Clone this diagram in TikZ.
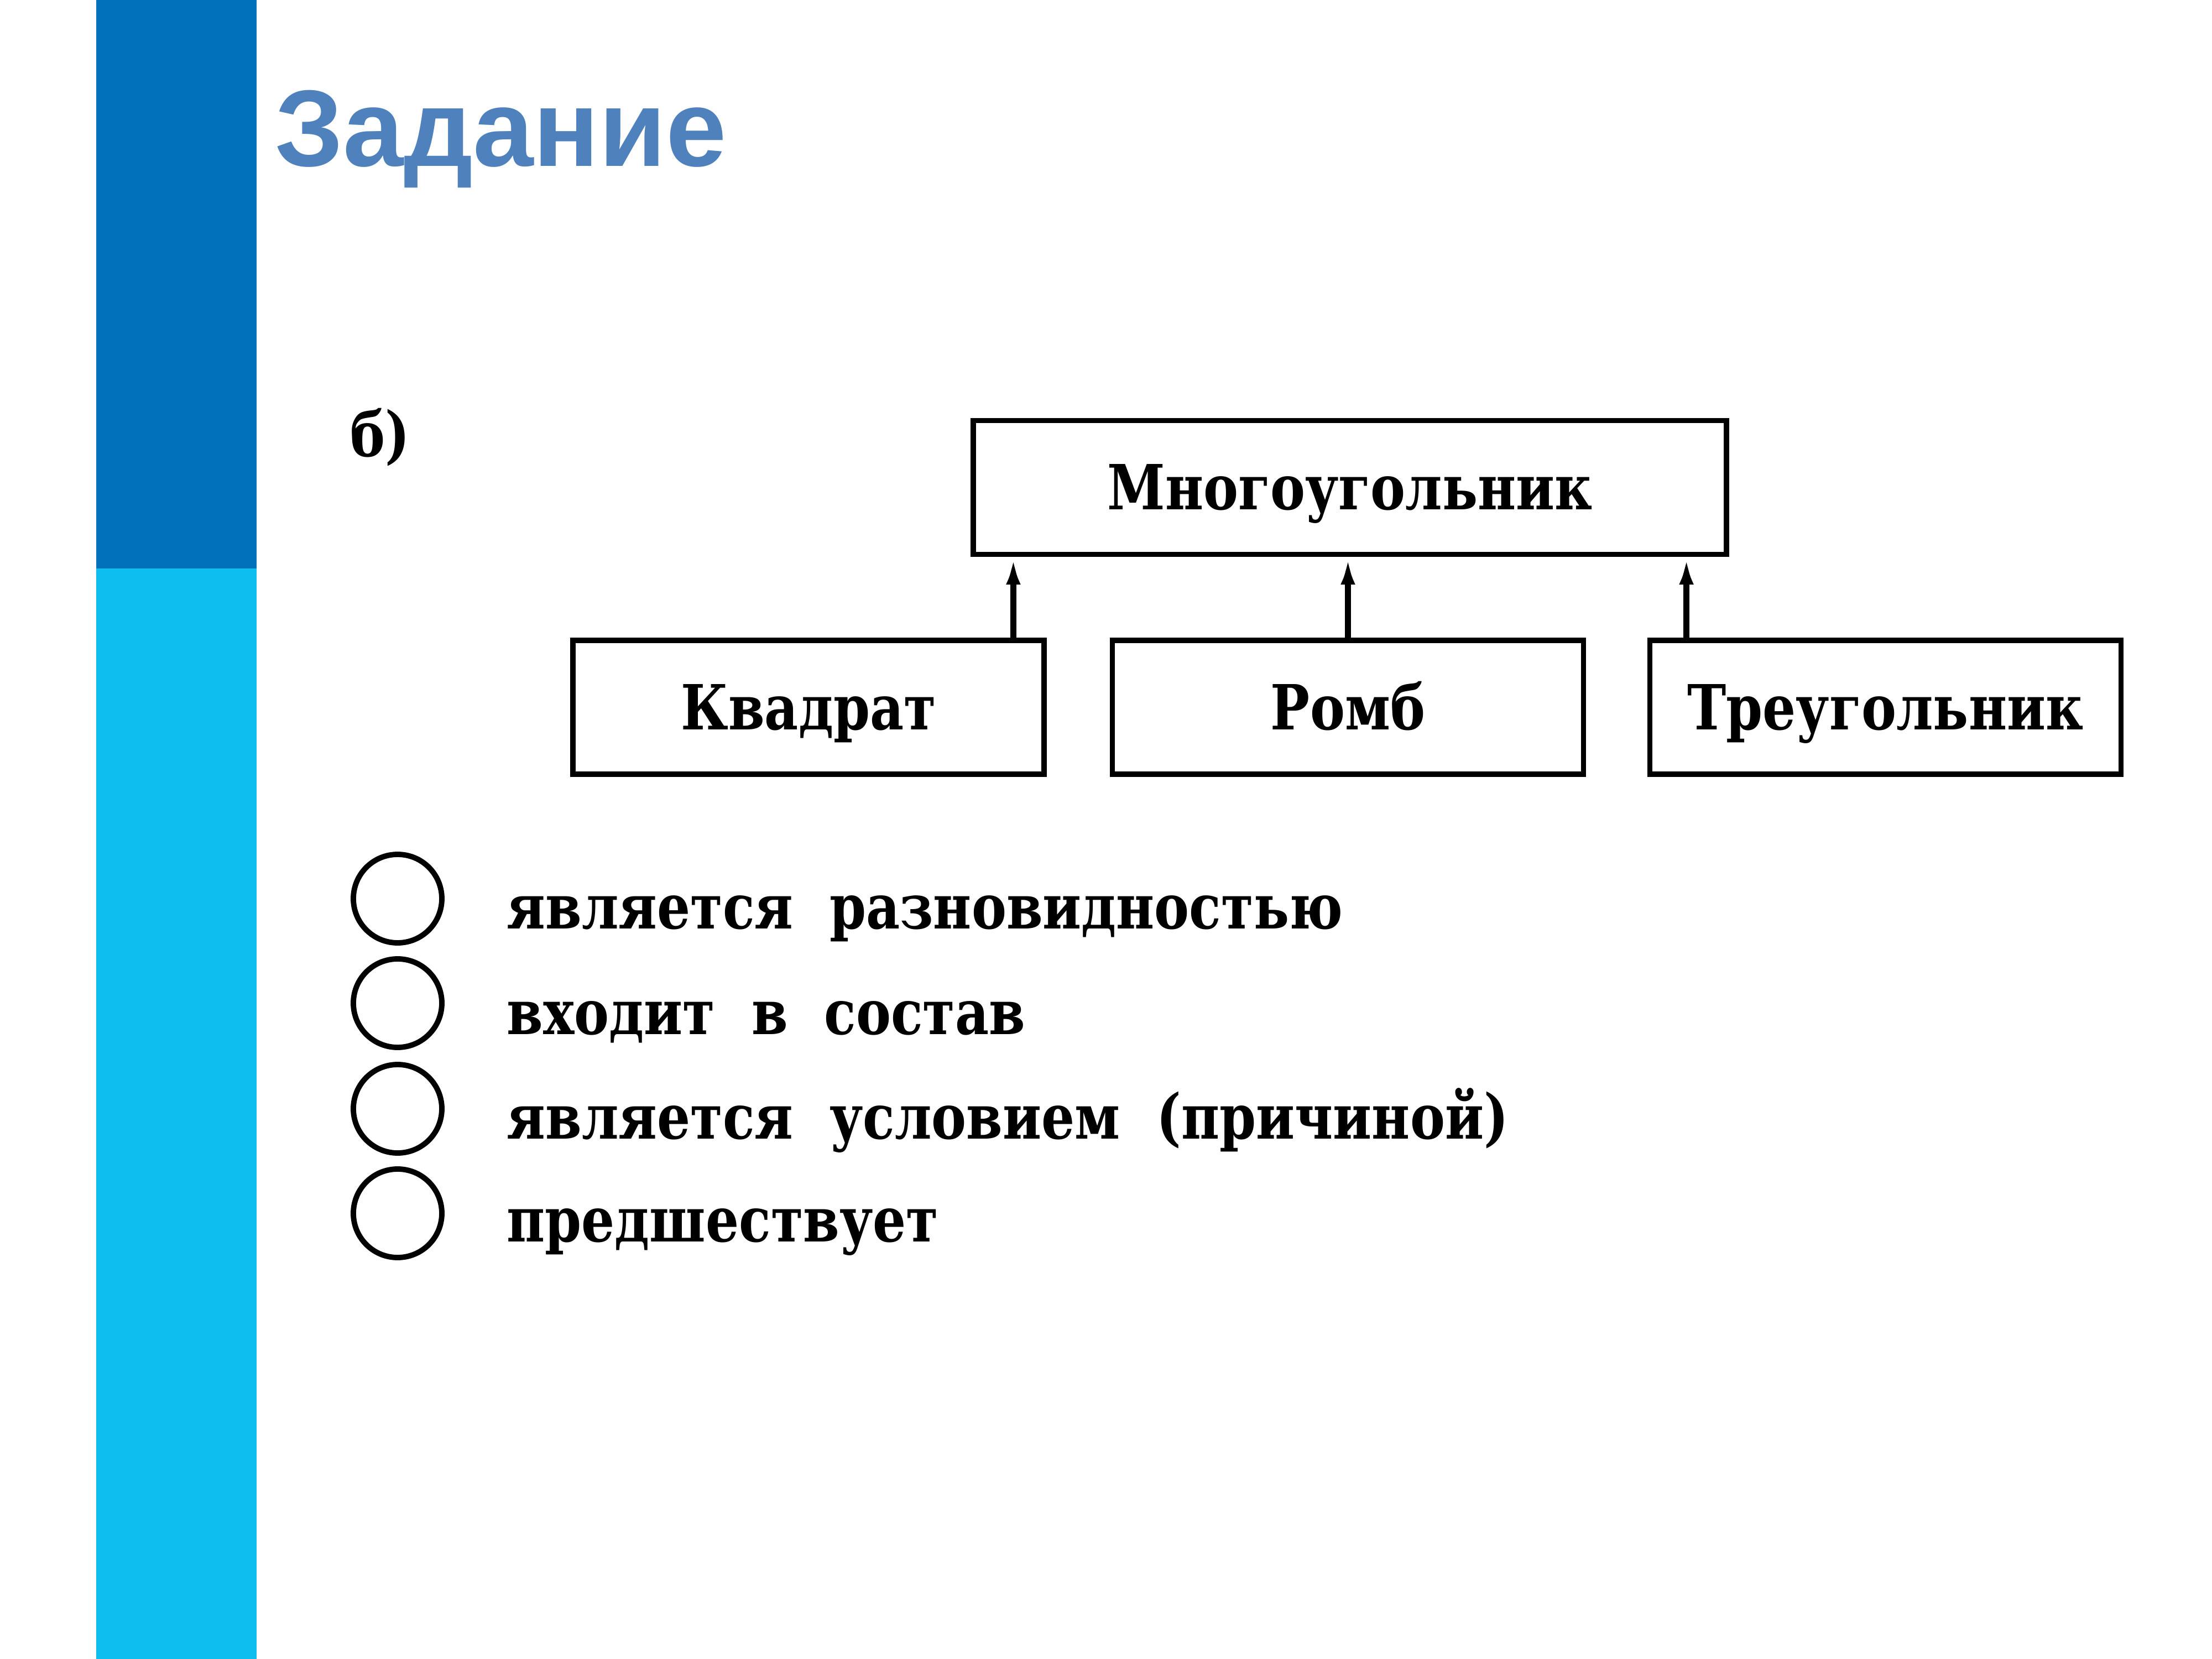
\documentclass[tikz,border=0pt]{standalone}
\usepackage{fontspec}
\setmainfont[FakeStretch=0.84]{DejaVu Serif}
\newfontfamily\headfont{Liberation Sans}
\usetikzlibrary{arrows.meta}
\definecolor{barTop}{RGB}{0,112,187}
\definecolor{barBottom}{RGB}{14,190,239}
\definecolor{headBlue}{RGB}{79,129,189}
\tikzset{
  box/.style={draw,line width=2.6pt,minimum height=2.42cm,text height=23pt,text depth=0pt,
    font=\bfseries\fontsize{32}{34}\selectfont},
  arr/.style={-{Latex[length=5mm,width=2.6mm]},line width=3pt},
  mark circle/.style={draw,circle,line width=2.8pt,minimum size=1.6cm,inner sep=0pt},
  item/.style={anchor=base west,inner sep=0pt,font=\bfseries\fontsize{32}{34}\selectfont}
}
\begin{document}
\begin{tikzpicture}
\useasboundingbox (0,0) rectangle (40,-30);
% side bar
\fill[barTop] (1.74,0) rectangle (4.64,-10.28);
\fill[barBottom] (1.74,-10.28) rectangle (4.64,-30);
\node[anchor=base west,inner sep=0pt,text=headBlue,font=\headfont\bfseries\fontsize{56}{60}\selectfont] (title) at (4.97,-3.01) {Задание};
\node[item] (part) at (6.33,-8.26) {б)};
% boxes
\node[box,minimum width=13.62cm] (poly) at (24.41,-8.815) {Многоугольник};
\node[box,minimum width=8.52cm] (square) at (14.62,-12.79) {Квадрат};
\node[box,minimum width=8.52cm] (rhomb) at (24.375,-12.79) {Ромб};
\node[box,minimum width=8.52cm] (triangle) at (34.095,-12.79) {Треугольник};
\draw[arr] ([xshift=7.7mm]poly.south west |- square.north) -- ([xshift=7.7mm]poly.south west);
\draw[arr] (rhomb.north) -- (rhomb.north |- poly.south);
\draw[arr] ([xshift=-7.7mm]poly.south east |- triangle.north) -- ([xshift=-7.7mm]poly.south east);
% answers
\node[mark circle] (c1) at (7.19,-16.25) {};
\node[mark circle] (c2) at (7.19,-18.14) {};
\node[mark circle] (c3) at (7.19,-20.05) {};
\node[mark circle] (c4) at (7.19,-21.94) {};
\node[item] (t1) at (9.16,-16.79) {является\ \ разновидностью};
\node[item] (t2) at (9.16,-18.70) {входит\ \ в\ \ состав};
\node[item] (t3) at (9.16,-20.59) {является\ \ условием\ \ (причиной)};
\node[item] (t4) at (9.16,-22.45) {предшествует};
\end{tikzpicture}
\end{document}
